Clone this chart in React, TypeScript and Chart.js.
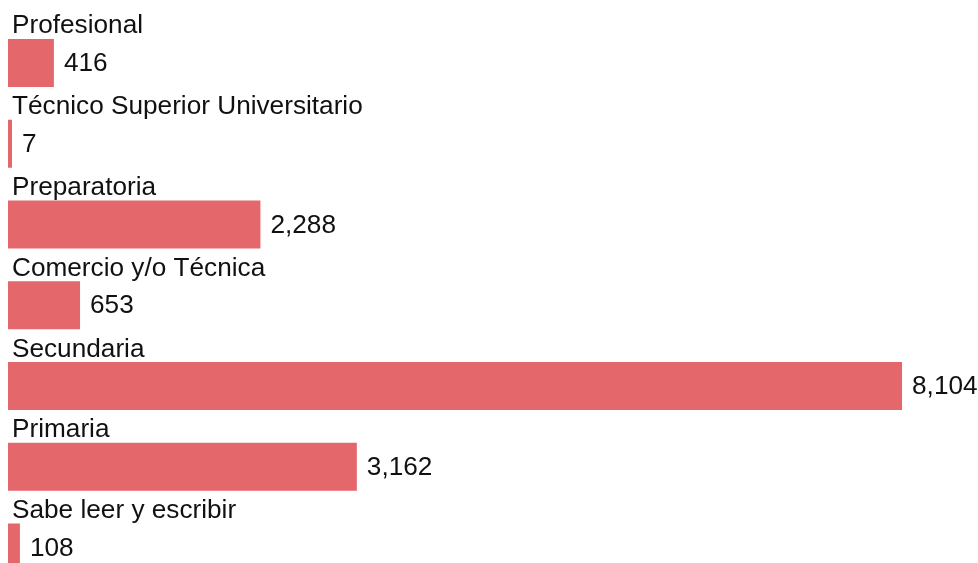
import React, { useEffect, useRef } from "react";
import { Chart, registerables } from "chart.js";

Chart.register(...registerables);

const categories = [
  "Profesional",
  "Técnico Superior Universitario",
  "Preparatoria",
  "Comercio y/o Técnica",
  "Secundaria",
  "Primaria",
  "Sabe leer y escribir",
];
const values = [416, 7, 2288, 653, 8104, 3162, 108];

const BAR_COLOR = "#E3676B";
const FONT = "Liberation Sans, Arial, Helvetica, sans-serif";
const FONT_SIZE = 26.2;

const labelPlugin = {
  id: "barLabels",
  afterDatasetsDraw(chart: any) {
    const ctx = chart.ctx;
    const meta = chart.getDatasetMeta(0);
    ctx.save();
    ctx.fillStyle = "#111111";
    ctx.font = `${FONT_SIZE}px ${FONT}`;
    meta.data.forEach((bar: any, i: number) => {
      const { x, y, base, height } = bar.getProps(["x", "y", "base", "height"], true);
      const top = y - height / 2;
      ctx.textAlign = "left";
      ctx.textBaseline = "alphabetic";
      ctx.fillText(String(chart.data.labels[i]), base + 4, top - 5.5);
      ctx.textBaseline = "middle";
      ctx.fillText(
        Number(chart.data.datasets[0].data[i]).toLocaleString("en-US"),
        Math.max(x, base + 4) + 10,
        y + 1
      );
    });
    ctx.restore();
  },
};

export default function App() {
  const ref = useRef<HTMLCanvasElement | null>(null);
  useEffect(() => {
    if (!ref.current) return;
    const chart = new Chart(ref.current, {
      type: "bar",
      data: {
        labels: categories,
        datasets: [
          {
            data: values,
            backgroundColor: BAR_COLOR,
            borderWidth: 0,
            barPercentage: 1,
            categoryPercentage: 48 / 80.75,
            minBarLength: 4,
          },
        ],
      },
      options: {
        indexAxis: "y",
        animation: false,
        responsive: false,
        maintainAspectRatio: false,
        layout: { padding: { left: 8, right: 8, top: 22.6, bottom: 12.1 } },
        plugins: {
          legend: { display: false },
          tooltip: { enabled: false },
          title: { display: false },
        },
        scales: {
          x: { display: false, min: 0, max: 8720 },
          y: { display: false },
        },
      },
      plugins: [labelPlugin],
    });
    return () => chart.destroy();
  }, []);
  return (
    <div
      style={{
        position: "fixed",
        top: 0,
        left: 0,
        width: 978,
        height: 563,
        overflow: "hidden",
        background: "#ffffff",
      }}
    >
      <canvas ref={ref} width={978} height={600} style={{ display: "block", width: 978, height: 600 }} />
    </div>
  );
}
